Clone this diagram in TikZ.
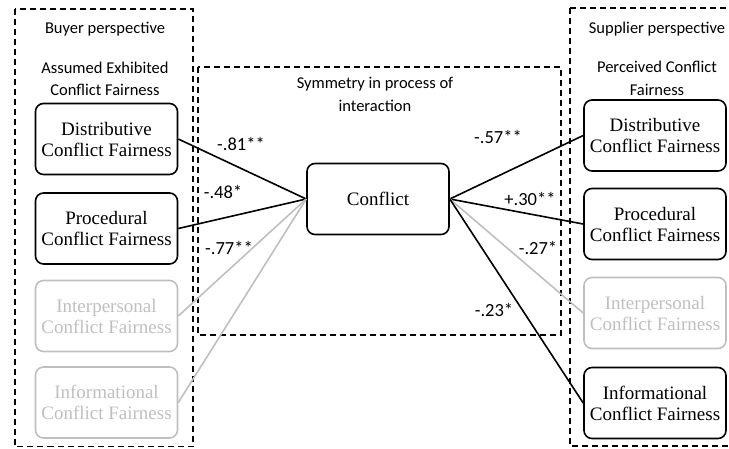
\documentclass[tikz,border=0pt]{standalone}
\usepackage{fontspec}
\setmainfont{Liberation Serif}
\setsansfont{Carlito}
\definecolor{faint}{RGB}{191,191,191}

\begin{document}
\begin{tikzpicture}[x=1pt,y=-1pt,
    fairbox/.style={draw,rounded corners=8pt,line width=1.6pt,minimum width=142pt,minimum height=71pt,inner sep=0pt,align=center,font=\fontsize{19}{21}\selectfont},
    faded/.style={draw=faint,text=faint},
    dashframe/.style={line width=1.5pt,dash pattern=on 6pt off 4pt},
    link/.style={line width=1.6pt},
    coef/.style={inner sep=0pt,font=\sffamily\fontsize{18.5}{20}\selectfont},
    caption/.style={inner sep=0pt,align=center,font=\sffamily\fontsize{16.5}{22.5}\selectfont}]
      \useasboundingbox (0,0) rectangle (729,448);
      \clip (0,0) rectangle (729,448);
      % perspective frames
      \draw[dashframe] (15,9) rectangle (193,446.5);
      \draw[dashframe] (198,67) rectangle (561,335);
      \draw[dashframe] (570,8) rectangle (745,446);
      \node[caption] (buyer) at (105,29) {Buyer perspective};
      \node[caption] (assumed) at (105,79) {Assumed Exhibited\\Conflict Fairness};
      \node[caption] (symmetry) at (375,94.5) {Symmetry in process of\\interaction};
      \node[caption] (supplier) at (657,29) {Supplier perspective};
      \node[caption] (perceived) at (657,78.5) {Perceived Conflict\\Fairness};
      % constructs
      \node[fairbox] (conflict) at (378,199) {Conflict};
      \node[fairbox] (bd) at (106.5,139) {Distributive\\Conflict Fairness};
      \node[fairbox] (bp) at (106.5,228.5) {Procedural\\Conflict Fairness};
      \node[fairbox,faded] (bi) at (106.5,316) {Interpersonal\\Conflict Fairness};
      \node[fairbox,faded] (bf) at (106.5,402.5) {Informational\\Conflict Fairness};
      \node[fairbox] (sd) at (655,135.5) {Distributive\\Conflict Fairness};
      \node[fairbox] (sp) at (655,224) {Procedural\\Conflict Fairness};
      \node[fairbox,faded] (si) at (655,313) {Interpersonal\\Conflict Fairness};
      \node[fairbox] (sf) at (655,403) {Informational\\Conflict Fairness};
      % paths
      \foreach \b/\c in {bd/black,bp/black,bi/faint,bf/faint} {\draw[link,\c] (conflict.west) -- (\b.east);}
      \foreach \s/\c in {sd/black,sp/black,si/faint,sf/black} {\draw[link,\c] (conflict.east) -- (\s.west);}
      \node[coef] (cbd) at (241,144) {-.81**};
      \node[coef] (cbp) at (223,192) {-.48*};
      \node[coef] (cbi) at (229,248) {-.77**};
      \node[coef] (csd) at (498,137) {-.57**};
      \node[coef] (csp) at (530,199) {+.30**};
      \node[coef] (csi) at (538,248) {-.27*};
      \node[coef] (csf) at (494,310) {-.23*};
\end{tikzpicture}
\end{document}
